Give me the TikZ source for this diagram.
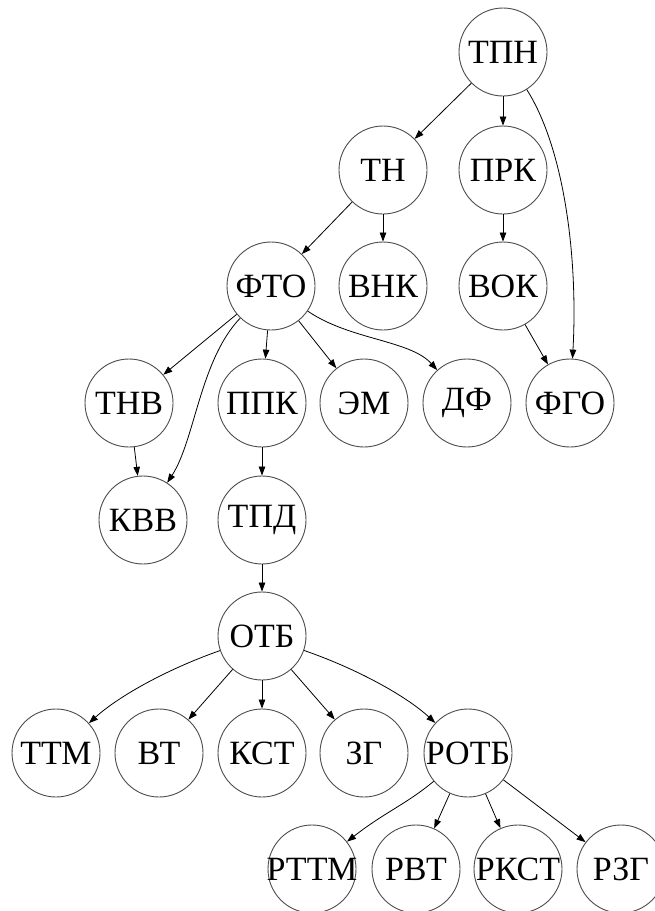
\documentclass[tikz,border=0pt]{standalone}
\usepackage{fontspec}
\setmainfont{Liberation Serif}
\usetikzlibrary{arrows.meta}
\newcommand\ctext[1]{\makebox[0pt]{#1}}
\begin{document}
\begin{tikzpicture}[x=1pt,y=-1pt,
  vtx/.style={circle, draw=black!70, line width=0.9pt, minimum size=88pt, inner sep=0pt,
    font=\fontsize{34}{40}\selectfont},
  edge/.style={draw=black, line width=0.8pt, -{Triangle[length=9pt,width=6.5pt]}}]
\useasboundingbox (0,0) rectangle (655,911);

% rank 1
\node[vtx] (tpn)  at (503,52)  {\ctext{ТПН}};
% rank 2
\node[vtx] (tn)   at (383,170) {\ctext{ТН}};
\node[vtx] (prk)  at (503,170) {\ctext{ПРК}};
% rank 3
\node[vtx] (fto)  at (271,286) {\ctext{ФТО}};
\node[vtx] (vnk)  at (383,286) {\ctext{ВНК}};
\node[vtx] (vok)  at (503,286) {\ctext{ВОК}};
% rank 4
\node[vtx] (tnv)  at (129,403) {\ctext{ТНВ}};
\node[vtx] (ppk)  at (262,403) {\ctext{ППК}};
\node[vtx] (em)   at (364,403) {\ctext{ЭМ}};
\node[vtx] (df)   at (467,403) {\ctext{ДФ}};
\node[vtx] (fgo)  at (570,403) {\ctext{ФГО}};
% rank 5
\node[vtx] (kvv)  at (143,520) {\ctext{КВВ}};
\node[vtx] (tpd)  at (262,520) {\ctext{ТПД}};
% rank 6
\node[vtx] (otb)  at (262,636) {\ctext{ОТБ}};
% rank 7
\node[vtx] (ttm)  at (56,753)  {\ctext{ТТМ}};
\node[vtx] (vt)   at (159,753) {\ctext{ВТ}};
\node[vtx] (kst)  at (262,753) {\ctext{КСТ}};
\node[vtx] (zg)   at (364,753) {\ctext{ЗГ}};
\node[vtx] (rotb) at (468,753) {\ctext{РОТБ}};
% rank 8
\node[vtx] (rttm) at (312,869) {\ctext{РТТМ}};
\node[vtx] (rvt)  at (416,869) {\ctext{РВТ}};
\node[vtx] (rkst) at (518,869) {\ctext{РКСТ}};
\node[vtx] (rzg)  at (621,869) {\ctext{РЗГ}};

% edges
\draw[edge] (tpn) -- (tn);
\draw[edge] (tpn) -- (prk);
\draw[edge] (tpn) .. controls (565,150) and (578,260) .. (fgo);
\draw[edge] (tn) -- (fto);
\draw[edge] (tn) -- (vnk);
\draw[edge] (prk) -- (vok);
\draw[edge] (vok) -- (fgo);
\draw[edge] (fto) -- (tnv);
\draw[edge] (fto) .. controls (200,360) and (195,440) .. (kvv);
\draw[edge] (fto) -- (ppk);
\draw[edge] (fto) -- (em);
\draw[edge] (fto) .. controls (350,340) and (410,340) .. (df);
\draw[edge] (tnv) -- (kvv);
\draw[edge] (ppk) -- (tpd);
\draw[edge] (tpd) -- (otb);
\draw[edge] (otb) .. controls (170,668) and (120,695) .. (ttm);
\draw[edge] (otb) -- (vt);
\draw[edge] (otb) -- (kst);
\draw[edge] (otb) -- (zg);
\draw[edge] (otb) .. controls (355,668) and (405,695) .. (rotb);
\draw[edge] (rotb) .. controls (405,805) and (385,812) .. (rttm);
\draw[edge] (rotb) -- (rvt);
\draw[edge] (rotb) -- (rkst);
\draw[edge] (rotb) -- (rzg);
\end{tikzpicture}
\end{document}
